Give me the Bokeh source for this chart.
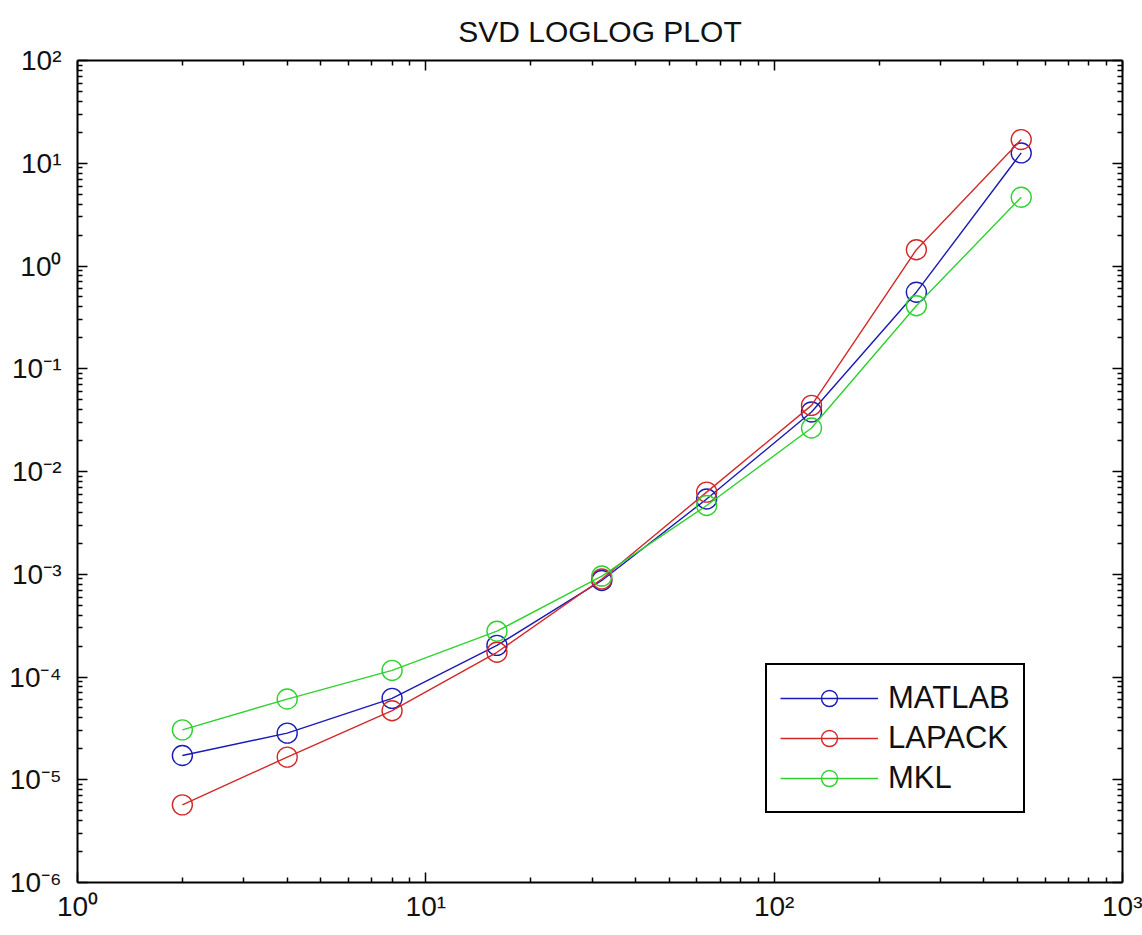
from bokeh.plotting import figure
from bokeh.models import (LogAxis, FixedTicker, CustomJSTickFormatter, Range1d,
                          Legend, LegendItem)
from bokeh.embed import file_html
from bokeh.resources import INLINE

# ---- data ----
sizes = [2, 4, 8, 16, 32, 64, 128, 256, 512]
matlab = [1.72e-5, 2.84e-5, 6.2e-5, 2.03e-4, 8.7e-4, 5.4e-3, 3.8e-2, 0.556, 12.6]
lapack = [5.7e-6, 1.66e-5, 4.7e-5, 1.74e-4, 9.0e-4, 6.3e-3, 4.4e-2, 1.44, 17.0]
mkl = [3.06e-5, 6.1e-5, 1.16e-4, 2.79e-4, 9.6e-4, 4.67e-3, 2.65e-2, 0.41, 4.67]
series_names = ["MATLAB", "LAPACK", "MKL"]
series_colors = ["#1a1ab8", "#d42828", "#2ed22e"]

x_major = [1, 10, 100, 1000]
y_major = [1e-6, 1e-5, 1e-4, 1e-3, 1e-2, 1e-1, 1, 10, 100]

FONT = "'Liberation Sans Narrow', 'Liberation Sans', Arial, sans-serif"

p = figure(width=1142, height=935, x_axis_type="log", y_axis_type="log",
           x_range=Range1d(1, 1000), y_range=Range1d(1e-6, 100),
           output_backend="svg", toolbar_location=None,
           min_border_left=77, min_border_right=20, min_border_top=60,
           min_border_bottom=53, title="SVD LOGLOG PLOT")
p.outline_line_color = None
p.grid.visible = False
p.background_fill_color = "white"
p.border_fill_color = "white"

p.title.text_font = FONT
p.title.text_font_size = "30px"
p.title.text_font_style = "normal"
p.title.align = "center"
p.title.vertical_align = "top"
p.title.text_color = "#111111"
p.title.standoff = 22

def minors(majors):
    out = []
    for m in majors[:-1]:
        out += [m * k for k in range(2, 10)]
    return out

xt = FixedTicker(ticks=x_major, minor_ticks=minors(x_major))
yt = FixedTicker(ticks=y_major, minor_ticks=minors(y_major))

sup_fmt = CustomJSTickFormatter(code="""
const sup = {'0':'\u2070','1':'\u00b9','2':'\u00b2','3':'\u00b3','4':'\u2074',
             '5':'\u2075','6':'\u2076','7':'\u2077','8':'\u2078','9':'\u2079','-':'\u207b'};
const e = Math.round(Math.log10(tick));
return '10' + String(e).split('').map(c => sup[c]).join('');
""")
blank_fmt = CustomJSTickFormatter(code="return '';")

def style_axis(ax, labels=True):
    ax.axis_line_width = 2
    ax.axis_line_color = "black"
    ax.major_tick_in = 10
    ax.major_tick_out = 0
    ax.minor_tick_in = 5
    ax.minor_tick_out = 0
    ax.major_tick_line_color = "black"
    ax.minor_tick_line_color = "black"
    ax.major_tick_line_width = 1.5
    ax.minor_tick_line_width = 1.5
    ax.major_label_text_font = FONT
    ax.major_label_text_font_size = "28px"
    ax.major_label_text_color = "#111111"
    if not labels:
        ax.major_label_standoff = 0
        ax.major_label_text_font_size = "0px"

p.xaxis.ticker = xt
p.yaxis.ticker = yt
p.xaxis.formatter = sup_fmt
p.yaxis.formatter = sup_fmt
style_axis(p.xaxis[0])
style_axis(p.yaxis[0])
p.xaxis.major_label_standoff = 8
p.yaxis.major_label_standoff = 16

top_ax = LogAxis(ticker=xt, formatter=blank_fmt)
right_ax = LogAxis(ticker=yt, formatter=blank_fmt)
style_axis(top_ax, labels=False)
style_axis(right_ax, labels=False)
p.add_layout(top_ax, "above")
p.add_layout(right_ax, "right")

items = []
for name, vals, col in zip(series_names, [matlab, lapack, mkl], series_colors):
    r1 = p.line(sizes, vals, line_color=col, line_width=1.4)
    r2 = p.scatter(sizes, vals, marker="circle", size=20, fill_color=None,
                   line_color=col, line_width=1.4)
    items.append(LegendItem(label=name, renderers=[r1, r2]))

legend = Legend(items=items, location=(688, 69))
legend.label_text_font = FONT
legend.label_text_font_size = "31px"
legend.label_text_color = "#111111"
legend.glyph_width = 98
legend.glyph_height = 40
legend.label_height = 30
legend.spacing = 0
legend.padding = 13
legend.margin = 0
legend.label_standoff = 10
legend.border_line_color = "black"
legend.border_line_alpha = 1
legend.border_line_width = 2
legend.background_fill_color = "white"
legend.background_fill_alpha = 1
p.add_layout(legend, "center")

open("out.html", "w").write(file_html(p, INLINE))
